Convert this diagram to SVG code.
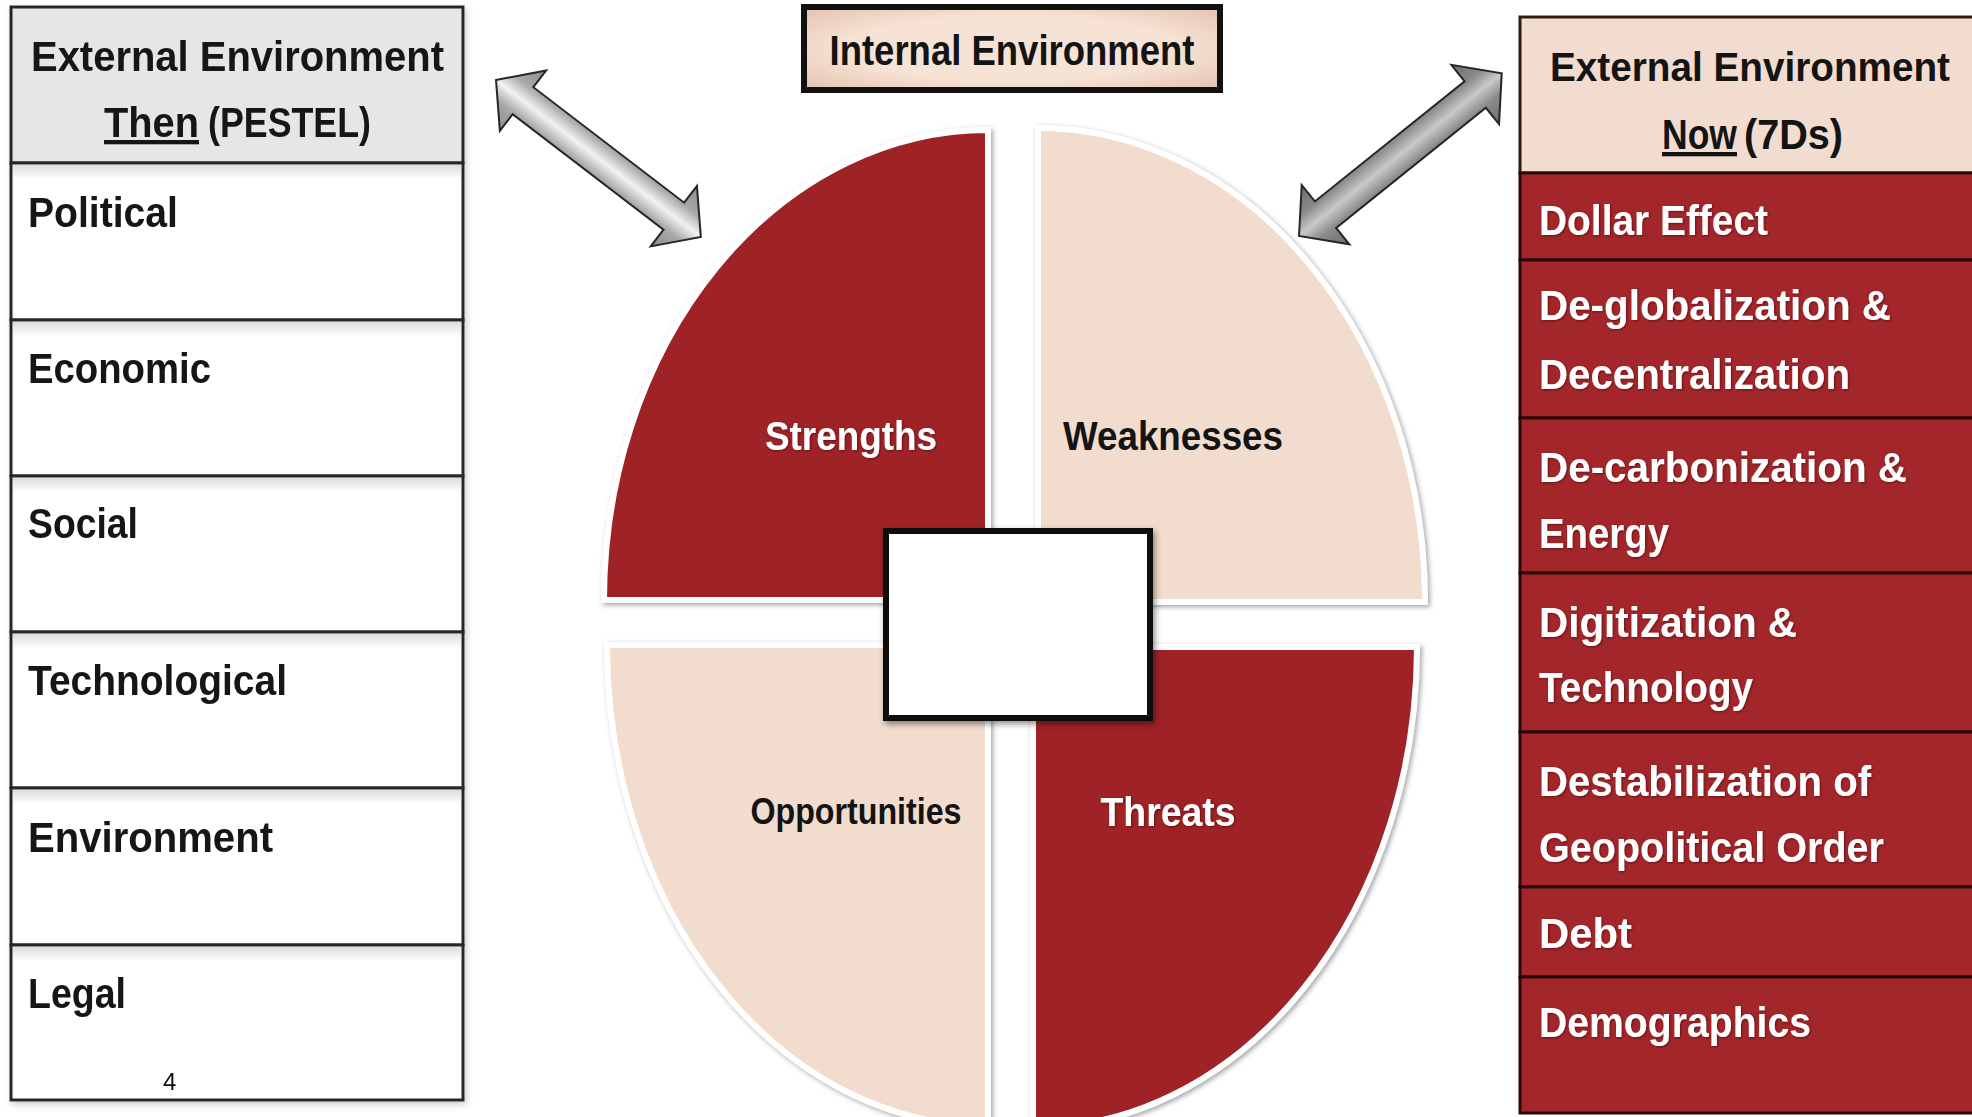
<svg xmlns="http://www.w3.org/2000/svg" width="1972" height="1117" viewBox="0 0 1972 1117">
  <defs>
    <style>
      text { font-family: "Liberation Sans", Arial, sans-serif; font-weight: bold; }
      .k { fill: #141414; }
      .w { fill: #ffffff; filter: url(#lift); }
      .lbl { font-size: 43px; }
      .u { text-decoration: underline; }
      .pcell { fill: #ffffff; stroke: #262626; stroke-width: 3; }
      .phead { fill: #e6e6e6; stroke: #262626; stroke-width: 3; }
      .dhead { fill: #f2dccf; stroke: #2a1a14; stroke-width: 3; }
      .dcell { fill: #a2262a; stroke: #2a0808; stroke-width: 3; }
      .shade { fill: url(#rowShade); }
      .piece { stroke: #ffffff; stroke-width: 6; filter: url(#drop); }
      .red { fill: #9e2327; }
      .peach { fill: #f2dccd; }
      .arrow { stroke: #262626; stroke-width: 2; stroke-linejoin: miter; }
      .pagenum { font-weight: normal; font-size: 24px; fill: #111; }
    </style>
    <filter id="drop" x="-10%" y="-10%" width="120%" height="120%">
      <feDropShadow dx="2" dy="2" stdDeviation="2.5" flood-color="#6b6b6b" flood-opacity="0.6"/>
    </filter>
    <filter id="boxShadow" x="-10%" y="-10%" width="120%" height="130%">
      <feDropShadow dx="2" dy="3" stdDeviation="3" flood-color="#000" flood-opacity="0.45"/>
    </filter>
    <filter id="tableShadow" x="-5%" y="-2%" width="110%" height="104%">
      <feDropShadow dx="2" dy="3" stdDeviation="3" flood-color="#9a9a9a" flood-opacity="0.5"/>
    </filter>
    <filter id="lift" x="-5%" y="-20%" width="110%" height="140%">
      <feDropShadow dx="1" dy="1" stdDeviation="1" flood-color="#3a0000" flood-opacity="0.55"/>
    </filter>
    <linearGradient id="rowShade" x1="0" y1="0" x2="0" y2="1">
      <stop offset="0" stop-color="#9a9a9a" stop-opacity="0.35"/>
      <stop offset="1" stop-color="#9a9a9a" stop-opacity="0"/>
    </linearGradient>
    <linearGradient id="arrowLight" x1="0" y1="0" x2="0" y2="1">
      <stop offset="0" stop-color="#8c8c8c"/>
      <stop offset="0.3" stop-color="#a8a8a8"/>
      <stop offset="0.5" stop-color="#f2f2f2"/>
      <stop offset="0.7" stop-color="#a8a8a8"/>
      <stop offset="1" stop-color="#8c8c8c"/>
    </linearGradient>
    <linearGradient id="arrowDark" x1="0" y1="0" x2="0" y2="1">
      <stop offset="0" stop-color="#6e6e6e"/>
      <stop offset="0.3" stop-color="#8a8a8a"/>
      <stop offset="0.5" stop-color="#c9c9c9"/>
      <stop offset="0.7" stop-color="#8a8a8a"/>
      <stop offset="1" stop-color="#6e6e6e"/>
    </linearGradient>
    <radialGradient id="titleFill" cx="0.5" cy="0.5" r="0.7">
      <stop offset="0.55" stop-color="#f7e3d6"/>
      <stop offset="1" stop-color="#e4c2ae"/>
    </radialGradient>
  </defs>

  <rect x="0" y="0" width="1972" height="1117" fill="#ffffff"/>

  <!-- PESTEL table (left) -->
  <g id="pestel" filter="url(#tableShadow)">
    <g id="pestel-header">
      <rect class="phead" x="11" y="7" width="452" height="156"/>
      <text class="k lbl" x="237.5" y="71" text-anchor="middle" textLength="413" lengthAdjust="spacingAndGlyphs">External Environment</text>
      <text class="k lbl u" x="104" y="137" textLength="95" lengthAdjust="spacingAndGlyphs">Then</text>
      <text class="k lbl" x="208" y="137" textLength="163" lengthAdjust="spacingAndGlyphs">(PESTEL)</text>
    </g>
    <g id="pestel-political">
      <rect class="pcell" x="11" y="163" width="452" height="157"/>
      <rect class="shade" x="13" y="165" width="448" height="14"/>
      <text class="k lbl" x="28" y="227" textLength="150" lengthAdjust="spacingAndGlyphs">Political</text>
    </g>
    <g id="pestel-economic">
      <rect class="pcell" x="11" y="320" width="452" height="156"/>
      <rect class="shade" x="13" y="322" width="448" height="14"/>
      <text class="k lbl" x="28" y="383" textLength="183" lengthAdjust="spacingAndGlyphs">Economic</text>
    </g>
    <g id="pestel-social">
      <rect class="pcell" x="11" y="476" width="452" height="156"/>
      <rect class="shade" x="13" y="478" width="448" height="14"/>
      <text class="k lbl" x="28" y="538" textLength="110" lengthAdjust="spacingAndGlyphs">Social</text>
    </g>
    <g id="pestel-technological">
      <rect class="pcell" x="11" y="632" width="452" height="156"/>
      <rect class="shade" x="13" y="634" width="448" height="14"/>
      <text class="k lbl" x="28" y="695" textLength="259" lengthAdjust="spacingAndGlyphs">Technological</text>
    </g>
    <g id="pestel-environment">
      <rect class="pcell" x="11" y="788" width="452" height="157"/>
      <rect class="shade" x="13" y="790" width="448" height="14"/>
      <text class="k lbl" x="28" y="852" textLength="245" lengthAdjust="spacingAndGlyphs">Environment</text>
    </g>
    <g id="pestel-legal">
      <rect class="pcell" x="11" y="945" width="452" height="155"/>
      <rect class="shade" x="13" y="947" width="448" height="14"/>
      <text class="k lbl" x="28" y="1008" textLength="98" lengthAdjust="spacingAndGlyphs">Legal</text>
      <text class="pagenum" x="163" y="1090">4</text>
    </g>
  </g>

  <!-- 7Ds table (right); its right border runs past the page edge -->
  <g id="seven-ds">
    <g id="ds-header">
      <rect class="dhead" x="1520" y="17" width="454" height="156"/>
      <text class="k" x="1750" y="81" font-size="40" text-anchor="middle" textLength="400" lengthAdjust="spacingAndGlyphs">External Environment</text>
      <text class="k lbl u" x="1662" y="149" textLength="75" lengthAdjust="spacingAndGlyphs">Now</text>
      <text class="k lbl" x="1744" y="149" textLength="99" lengthAdjust="spacingAndGlyphs">(7Ds)</text>
    </g>
    <g id="ds-dollar">
      <rect class="dcell" x="1520" y="173" width="454" height="87"/>
      <text class="w lbl" x="1539" y="235" textLength="229" lengthAdjust="spacingAndGlyphs">Dollar Effect</text>
    </g>
    <g id="ds-deglobalization">
      <rect class="dcell" x="1520" y="260" width="454" height="158"/>
      <text class="w lbl" x="1539" y="320" textLength="352" lengthAdjust="spacingAndGlyphs">De-globalization &amp;</text>
      <text class="w lbl" x="1539" y="389" textLength="311" lengthAdjust="spacingAndGlyphs">Decentralization</text>
    </g>
    <g id="ds-decarbonization">
      <rect class="dcell" x="1520" y="418" width="454" height="155"/>
      <text class="w lbl" x="1539" y="482" textLength="368" lengthAdjust="spacingAndGlyphs">De-carbonization &amp;</text>
      <text class="w lbl" x="1539" y="548" textLength="130" lengthAdjust="spacingAndGlyphs">Energy</text>
    </g>
    <g id="ds-digitization">
      <rect class="dcell" x="1520" y="573" width="454" height="159"/>
      <text class="w lbl" x="1539" y="637" textLength="258" lengthAdjust="spacingAndGlyphs">Digitization &amp;</text>
      <text class="w lbl" x="1539" y="702" textLength="214" lengthAdjust="spacingAndGlyphs">Technology</text>
    </g>
    <g id="ds-destabilization">
      <rect class="dcell" x="1520" y="732" width="454" height="155"/>
      <text class="w lbl" x="1539" y="796" textLength="332" lengthAdjust="spacingAndGlyphs">Destabilization of</text>
      <text class="w lbl" x="1539" y="862" textLength="345" lengthAdjust="spacingAndGlyphs">Geopolitical Order</text>
    </g>
    <g id="ds-debt">
      <rect class="dcell" x="1520" y="887" width="454" height="90"/>
      <text class="w lbl" x="1539" y="948" textLength="93" lengthAdjust="spacingAndGlyphs">Debt</text>
    </g>
    <g id="ds-demographics">
      <rect class="dcell" x="1520" y="977" width="454" height="136"/>
      <text class="w lbl" x="1539" y="1037" textLength="272" lengthAdjust="spacingAndGlyphs">Demographics</text>
    </g>
  </g>

  <!-- Internal environment title -->
  <g id="internal-title">
    <rect x="804" y="7" width="416" height="83" fill="url(#titleFill)" stroke="#111" stroke-width="6"/>
    <text class="k" x="1012" y="65" font-size="42" text-anchor="middle" textLength="365" lengthAdjust="spacingAndGlyphs">Internal Environment</text>
  </g>

  <!-- SWOT quadrants -->
  <g id="strengths">
    <path class="piece red" d="M988,600 H604 A384,470 0 0,1 988,130 Z"/>
    <text class="w" x="851" y="450" font-size="41" text-anchor="middle" textLength="172" lengthAdjust="spacingAndGlyphs">Strengths</text>
  </g>
  <g id="weaknesses">
    <path class="piece peach" d="M1038,602 V128 A387,474 0 0,1 1425,602 Z"/>
    <text class="k" x="1173" y="450" font-size="41" text-anchor="middle" textLength="220" lengthAdjust="spacingAndGlyphs">Weaknesses</text>
  </g>
  <g id="opportunities">
    <path class="piece peach" d="M988,645 V1126 A381,481 0 0,1 607,645 Z"/>
    <text class="k" x="856" y="824" font-size="36" text-anchor="middle" textLength="211" lengthAdjust="spacingAndGlyphs">Opportunities</text>
  </g>
  <g id="threats">
    <path class="piece red" d="M1033,647 H1417 A384,481 0 0,1 1033,1128 Z"/>
    <text class="w" x="1168" y="826" font-size="41" text-anchor="middle" textLength="135" lengthAdjust="spacingAndGlyphs">Threats</text>
  </g>
  <g id="center-box">
    <rect x="886" y="531" width="264" height="187" fill="#ffffff" stroke="#0d0d0d" stroke-width="6" filter="url(#boxShadow)"/>
  </g>

  <!-- Double-headed arrows linking the external tables with the SWOT -->
  <g id="connectors">
    <g transform="translate(496,80) rotate(37.45)">
      <polygon class="arrow" fill="url(#arrowLight)" points="0,0 34,-38 34,-17 224,-17 224,-38 258,0 224,38 224,17 34,17 34,38"/>
    </g>
    <g transform="translate(1299,236) rotate(-38.76)">
      <polygon class="arrow" fill="url(#arrowDark)" points="0,0 34,-38 34,-17 226,-17 226,-38 260,0 226,38 226,17 34,17 34,38"/>
    </g>
  </g>
</svg>
